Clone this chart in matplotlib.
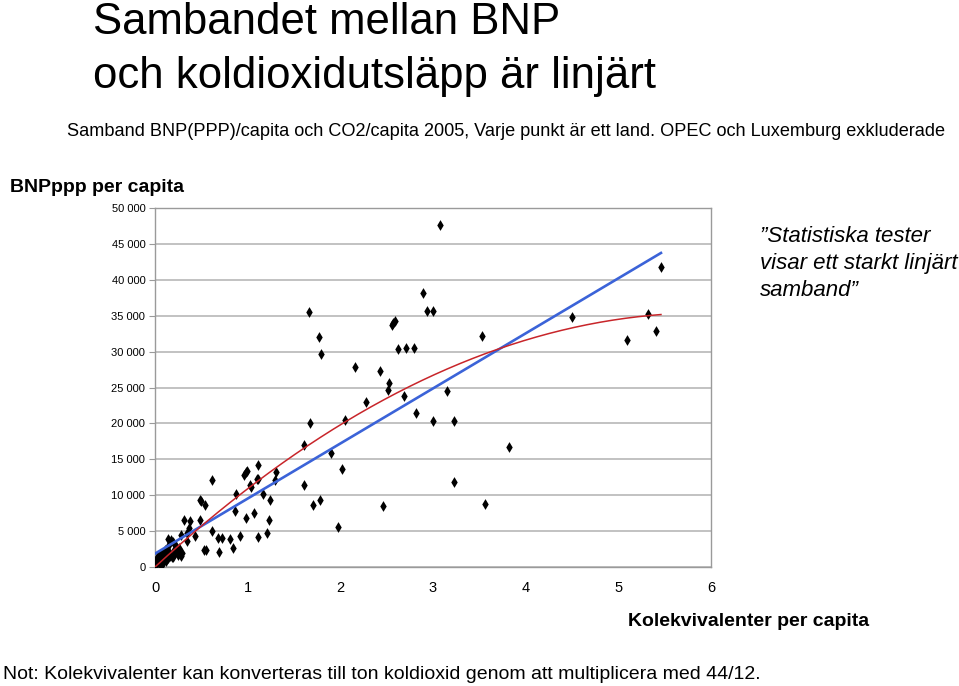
import numpy as np
import matplotlib
matplotlib.use("Agg")
import matplotlib.pyplot as plt

plt.rcParams['font.family'] = ['Liberation Sans', 'DejaVu Sans']

# Kolekvivalenter per capita (x) och BNPppp per capita (y), ett land per punkt
co2 = [
    # tät klunga nära origo
    0.01, 0.02, 0.03, 0.02, 0.04, 0.05, 0.06, 0.07, 0.08, 0.09,
    0.10, 0.11, 0.12, 0.13, 0.14, 0.15, 0.03, 0.05, 0.06, 0.08,
    0.16, 0.18, 0.20, 0.22, 0.24, 0.25, 0.27, 0.28, 0.29, 0.26,
    0.14, 0.17, 0.19, 0.16, 0.23, 0.28, 0.01, 0.04, 0.09, 0.11,
    0.19, 0.21, 0.13, 0.07,
    # låga och medel
    0.31, 0.38, 0.37, 0.35, 0.43, 0.34, 0.49, 0.49, 0.54, 0.53,
    0.62, 0.62, 0.68, 0.72, 0.69, 0.81, 0.84, 0.92, 0.86, 0.87,
    0.98, 1.07, 1.11, 1.21, 1.23, 1.24, 1.17, 1.04, 1.03, 0.98,
    0.96, 0.99, 1.10, 1.11, 1.31, 1.30, 1.11, 0.55, 0.50,
    # höga
    1.61, 1.61, 1.66, 1.67, 1.71, 1.77, 1.78, 1.79, 1.90, 1.98,
    2.02, 2.05, 2.16, 2.28, 2.43, 2.46, 2.51, 2.53, 2.56, 2.57,
    2.59, 2.62, 2.69, 2.71, 2.79, 2.82, 2.89, 2.94, 3.00, 3.00,
    3.08, 3.15, 3.23, 3.23, 3.53, 3.56, 3.82, 4.50, 5.09, 5.32,
    5.41, 5.46,
]
bnp = [
    300, 600, 900, 1200, 500, 1100, 800, 1400, 1000, 1700,
    1300, 1500, 900, 1900, 1200, 2100, 1500, 1800, 200, 2000,
    1600, 1400, 2300, 2000, 2500, 1700, 2000, 1500, 1900, 2700,
    3900, 3700, 3500, 3300, 2900, 4400, 800, 1300, 600, 2400,
    1400, 1800, 2600, 1700,
    6510, 6370, 5440, 4740, 4280, 3620, 6550, 9340, 8640, 2420,
    12080, 5070, 4040, 4040, 2040, 3900, 2650, 4320, 7850, 10180,
    6880, 7480, 4140, 4690, 6550, 9390, 10220, 11150, 11430, 13240,
    12870, 13430, 12310, 14170, 13240, 12080, 12220, 2370, 9240,
    11480, 17050, 35550, 20030, 8600, 32060, 9390, 29690, 15940, 5620,
    13660, 20490, 27790, 23050, 27320, 8500, 24630, 25560, 33690, 33970,
    34200, 30340, 23880, 30530, 30530, 21380, 38100, 35690, 35690, 20310,
    47630, 24540, 20350, 11900, 32110, 8780, 16680, 34810, 31650, 35180,
    32850, 41730,
]

# trendlinjer (koefficienter, högsta grad först)
lin_coef = [7670, 1860]
poly_coef = [-1000, 11900, 0]
trend_xmax = 5.46

y_ticks = [0, 5000, 10000, 15000, 20000, 25000, 30000, 35000, 40000, 45000, 50000]
x_ticks = [0, 1, 2, 3, 4, 5, 6]

fig = plt.figure(figsize=(9.59, 6.86), dpi=100)
ax = fig.add_axes([155 / 959, 1 - 567 / 686, 556 / 959, 359 / 686])

ax.scatter(co2, bnp, marker='d', s=30, color='black', zorder=3, linewidths=0)

xs = np.linspace(0, trend_xmax, 200)
ax.plot(xs, np.polyval(lin_coef, xs), color='#3b63d8', lw=1.9, zorder=4)
ax.plot(xs, np.polyval(poly_coef, xs), color='#c8252a', lw=1.1, zorder=4)

ax.set_xlim(0, 6)
ax.set_ylim(0, 50000)
ax.set_xticks(x_ticks)
ax.set_yticks(y_ticks)
ax.set_yticklabels(['{:,}'.format(v).replace(',', ' ') for v in y_ticks], fontsize=8)
ax.set_xticklabels([str(v) for v in x_ticks], fontsize=10.5)
ax.yaxis.grid(True, color='#b8b8b8', lw=1.2)
ax.set_axisbelow(True)
for s in ax.spines.values():
    s.set_color('#9a9a9a')
    s.set_linewidth(1.0)
ax.tick_params(axis='y', length=4, color='#9a9a9a', pad=3)
ax.tick_params(axis='x', length=0, pad=10)

# texter
fig.text(93 / 959, 1 - 34 / 686, 'Sambandet mellan BNP', fontsize=31.5, va='baseline')
fig.text(93 / 959, 1 - 88 / 686, 'och koldioxidutsläpp är linjärt', fontsize=31.5, va='baseline')
fig.text(67 / 959, 1 - 136 / 686,
         'Samband BNP(PPP)/capita och CO2/capita 2005, Varje punkt är ett land. OPEC och Luxemburg exkluderade',
         fontsize=13.1, va='baseline')
fig.text(10 / 959, 1 - 192 / 686, 'BNPppp per capita', fontsize=14, fontweight='bold', va='baseline')
fig.text(628 / 959, 1 - 626 / 686, 'Kolekvivalenter per capita', fontsize=14, fontweight='bold', va='baseline')
fig.text(3 / 959, 1 - 679 / 686,
         'Not: Kolekvivalenter kan konverteras till ton koldioxid genom att multiplicera med 44/12.',
         fontsize=14, va='baseline')
fig.text(760 / 959, 1 - 296 / 686, '\u201dStatistiska tester\nvisar ett starkt linjärt\nsamband\u201d',
         fontsize=16, style='italic', va='baseline', linespacing=1.37)

fig.savefig('out.png', dpi=100)
